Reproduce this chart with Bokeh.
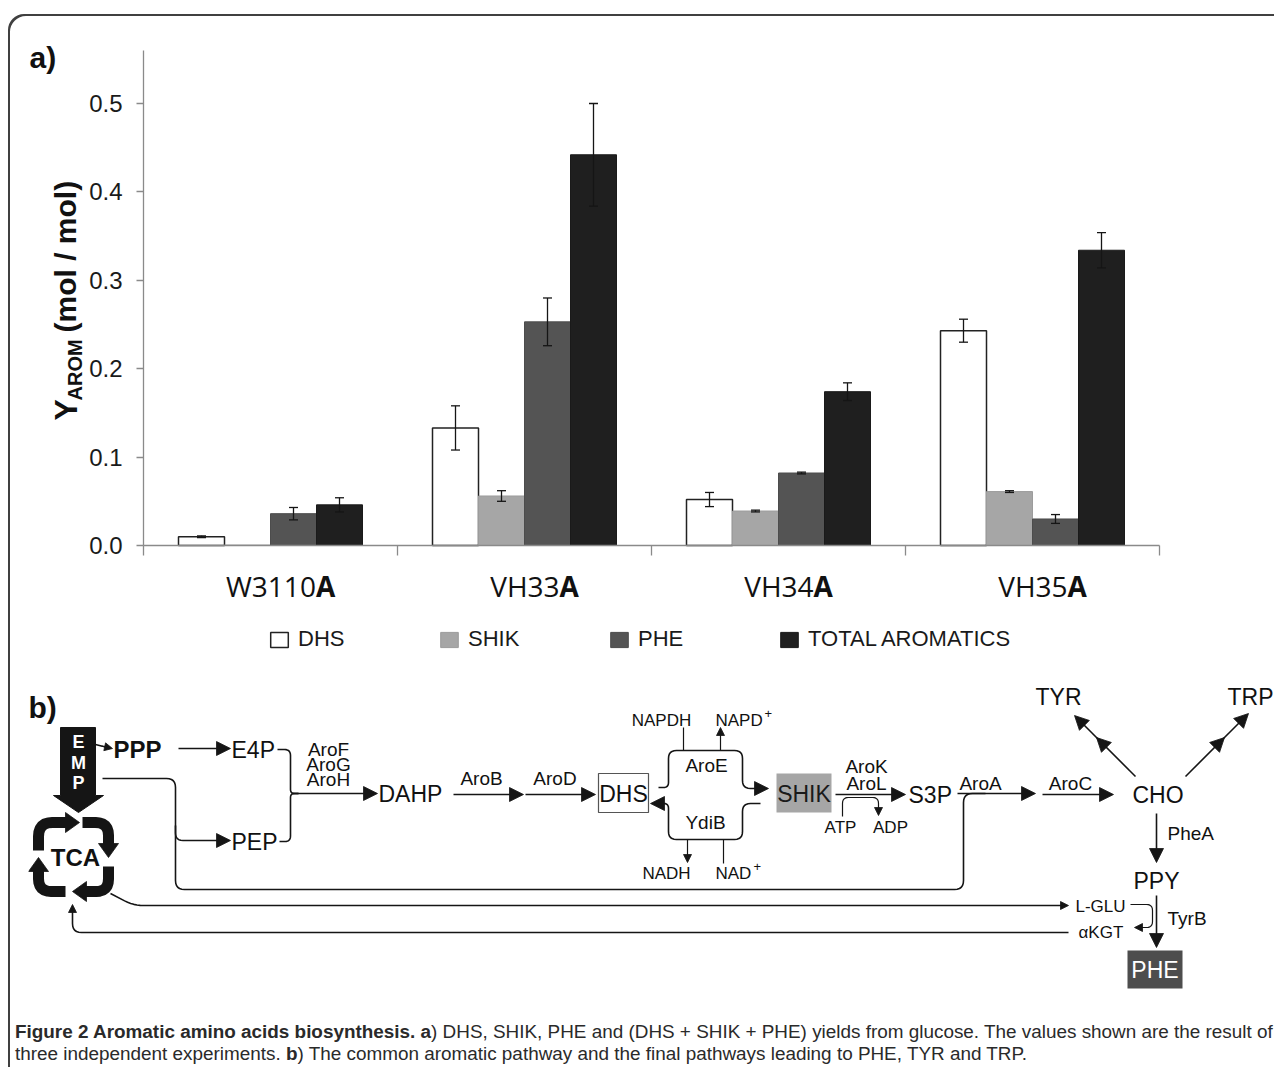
import numpy as np
from bokeh.plotting import figure
from bokeh.layouts import column
from bokeh.models import (FactorRange, Range1d, LinearAxis, CategoricalAxis, FixedTicker,
                          PrintfTickFormatter, ColumnDataSource, Legend, LegendItem, Label, Div)
from bokeh.transform import dodge
from bokeh.core.properties import value
from bokeh.embed import file_html
from bokeh.resources import INLINE

# ---------------- data: panel a ----------------
strains = ["W3110A", "VH33A", "VH34A", "VH35A"]
series = ["DHS", "SHIK", "PHE", "TOTAL AROMATICS"]
dhs_yield = [0.010, 0.133, 0.052, 0.243]
dhs_err = [0.001, 0.025, 0.008, 0.013]
shik_yield = [0.0005, 0.056, 0.039, 0.061]
shik_err = [0.0, 0.006, 0.001, 0.001]
phe_yield = [0.036, 0.253, 0.082, 0.030]
phe_err = [0.007, 0.027, 0.001, 0.005]
total_yield = [0.046, 0.442, 0.174, 0.334]
total_err = [0.008, 0.058, 0.010, 0.020]
y_ticks = [0.0, 0.1, 0.2, 0.3, 0.4, 0.5]
y_axis_top = 0.56

# ---------------- layout constants (page pixels) ----------------
W = 1266
PAGE_X0, PAGE_Y0 = 8, 14
CAP_TOP = 1021
CAP_H = 46
H = CAP_TOP - PAGE_Y0
FRAME_LEFT = 20
PX_PER_CAT = 254.0
PX_PER_UNIT = 884.0
CAT_LEFT_PAGE = 143.0
ZERO_PAGE_Y = 545.0

frame_l = PAGE_X0 + FRAME_LEFT
frame_r = PAGE_X0 + W
frame_t = PAGE_Y0
frame_b = PAGE_Y0 + H

pad = (CAT_LEFT_PAGE - frame_l) / PX_PER_CAT
x_range = FactorRange(factors=strains, range_padding=2 * pad / len(strains),
                      range_padding_units="percent")
y_range = Range1d((ZERO_PAGE_Y - frame_b) / PX_PER_UNIT, (ZERO_PAGE_Y - frame_t) / PX_PER_UNIT)


def X(px):
    """page x pixel -> synthetic category coordinate"""
    return (px - CAT_LEFT_PAGE) / PX_PER_CAT


def Y(py):
    """page y pixel -> value coordinate"""
    return (ZERO_PAGE_Y - py) / PX_PER_UNIT


p = figure(width=W, height=H, x_range=x_range, y_range=y_range,
           x_axis_location=None, y_axis_location=None, toolbar_location=None,
           output_backend="svg", min_border_left=FRAME_LEFT, min_border_right=0,
           min_border_top=0, min_border_bottom=0,
           background_fill_color=None, border_fill_color=None,
           outline_line_color=None)
p.xgrid.visible = False
p.ygrid.visible = False

AX_COL = "#8a8a8a"
INK = "#151515"

# ---------------- axes ----------------
yax = LinearAxis(fixed_location=0, bounds=(0, y_axis_top),
                 ticker=FixedTicker(ticks=y_ticks), formatter=PrintfTickFormatter(format="%.1f"))
yax.axis_line_color = AX_COL
yax.axis_line_width = 1.3
yax.major_tick_line_color = AX_COL
yax.major_tick_line_width = 1.3
yax.major_tick_out = 7
yax.major_tick_in = 0
yax.minor_tick_line_color = None
yax.major_label_text_font = "Liberation Sans"
yax.major_label_text_font_size = "24px"
yax.major_label_text_color = "#1a1a1a"
yax.major_label_standoff = 14
p.add_layout(yax, "left")

xax = CategoricalAxis(fixed_location=0, bounds=(0, len(strains)))
xax.axis_line_color = AX_COL
xax.axis_line_width = 1.3
xax.major_tick_line_color = None
xax.minor_tick_line_color = None
xax.major_label_text_color = None
p.add_layout(xax, "below")

# boundary ticks of the category axis
tick_len = 10 / PX_PER_UNIT
cat_src = ColumnDataSource(dict(cat=strains))
last_src = ColumnDataSource(dict(cat=strains[-1:]))
p.segment(x0=dodge("cat", -0.5, range=p.x_range), y0=0, x1=dodge("cat", -0.5, range=p.x_range),
          y1=-tick_len, source=cat_src, line_color=AX_COL, line_width=1.3)
p.segment(x0=dodge("cat", 0.5, range=p.x_range), y0=0, x1=dodge("cat", 0.5, range=p.x_range),
          y1=-tick_len, source=last_src, line_color=AX_COL, line_width=1.3)

# ---------------- bars ----------------
bar_w = 46 / PX_PER_CAT
offsets = [(-1.5 + i) * bar_w for i in range(4)]
keys = ["dhs", "shik", "phe", "total"]
vals = [dhs_yield, shik_yield, phe_yield, total_yield]
errs = [dhs_err, shik_err, phe_err, total_err]
fills = ["#ffffff", "#a6a6a6", "#545454", "#1f1f1f"]
lines_c = ["#222222", "#9c9c9c", "#4c4c4c", "#1a1a1a"]
lw = [1.5, 1.0, 1.0, 1.0]

bar_src = ColumnDataSource(dict(cat=strains, dhs=dhs_yield, shik=shik_yield,
                                phe=phe_yield, total=total_yield))
bar_renderers = []
for k, v, e, off, fc, lc, w in zip(keys, vals, errs, offsets, fills, lines_c, lw):
    r = p.vbar(x=dodge("cat", off, range=p.x_range), top=k, width=bar_w, bottom=0,
               source=bar_src, fill_color=fc, line_color=lc, line_width=w)
    bar_renderers.append(r)
    rows = [i for i in range(len(strains)) if e[i] > 0]
    es = ColumnDataSource(dict(cat=[strains[i] for i in rows],
                               lo=[v[i] - e[i] for i in rows],
                               hi=[v[i] + e[i] for i in rows]))
    xe = dodge("cat", off, range=p.x_range)
    p.segment(x0=xe, y0="lo", x1=xe, y1="hi", source=es, line_color=INK, line_width=1.3)
    p.scatter(x=xe, y="hi", marker="dash", size=9, source=es, line_color=INK, line_width=1.3)
    p.scatter(x=xe, y="lo", marker="dash", size=9, source=es, line_color=INK, line_width=1.3)

# category labels (strain name with bold trailing "A")
OS_W = {"W": 0.93, "V": 0.60, "H": 0.74, "0": 0.572, "1": 0.572, "3": 0.572,
        "4": 0.572, "5": 0.572}
LBL_PX = 28
label_y = Y(585)
for cat in strains:
    pre, suf = cat[:-1], cat[-1]
    w_pre = sum(OS_W.get(c, 0.6) for c in pre) * LBL_PX
    w_suf = 0.69 * LBL_PX
    off = (10 + (w_pre - w_suf) / 2) / PX_PER_CAT
    src = ColumnDataSource(dict(cat=[cat], pre=[pre], suf=[suf]))
    xl = dodge("cat", off, range=p.x_range)
    p.text(x=xl, y=label_y, text="pre", source=src, text_align="right", text_baseline="middle",
           text_font=value("Open Sans"), text_font_size=f"{LBL_PX}px", text_color="#111111")
    p.text(x=xl, y=label_y, text="suf", source=src, text_align="left", text_baseline="middle",
           text_font=value("Open Sans"), text_font_size=f"{LBL_PX}px", text_font_style="bold",
           text_color="#111111")

# legend
legend = Legend(items=[LegendItem(label=s, renderers=[r]) for s, r in zip(series, bar_renderers)],
                orientation="horizontal", location=(268 - frame_l, frame_b - 652),
                glyph_width=22, glyph_height=19, label_standoff=8, label_width=140,
                label_height=19, spacing=0, padding=0, margin=0,
                border_line_color=None, background_fill_alpha=0,
                label_text_font="Liberation Sans", label_text_font_size="22px",
                label_text_color="#1a1a1a")
p.add_layout(legend)


# ---------------- helpers for pixel-space drawing ----------------
def T(x, y, s, size, bold=False, align="left", color="#111111", baseline="middle",
      angle=0.0, font="Liberation Sans"):
    p.text(x=[X(x)], y=[Y(y)], text=[s], angle=angle, text_font=value(font),
           text_font_size=f"{size}px", text_font_style="bold" if bold else "normal",
           text_align=align, text_baseline=baseline, text_color=color)


def rpath(pts, r=7, n=7):
    out = [tuple(pts[0])]
    for i in range(1, len(pts) - 1):
        p0 = np.array(pts[i - 1], float)
        p1 = np.array(pts[i], float)
        p2 = np.array(pts[i + 1], float)
        d1 = p1 - p0
        l1 = np.hypot(*d1)
        d2 = p2 - p1
        l2 = np.hypot(*d2)
        rr = min(r, l1 / 2, l2 / 2)
        a = p1 - d1 / l1 * rr
        b = p1 + d2 / l2 * rr
        for t in np.linspace(0, 1, n):
            q = (1 - t) ** 2 * a + 2 * (1 - t) * t * p1 + t ** 2 * b
            out.append((q[0], q[1]))
    out.append(tuple(pts[-1]))
    return out


HEADS = {"big": (14, 7), "small": (8, 4), "tca": (14, 10)}
lines = {"thin": [], "normal": [], "tca": []}
head_polys = []


def head(tip, d, kind):
    L, Wd = HEADS[kind]
    tip = np.array(tip, float)
    d = np.array(d, float)
    d = d / np.hypot(*d)
    base = tip - d * L
    nrm = np.array([-d[1], d[0]])
    a = base + nrm * Wd
    b = base - nrm * Wd
    head_polys.append(([tip[0], a[0], b[0]], [tip[1], a[1], b[1]]))


def line(pts, r=7, group="normal"):
    lines[group].append(rpath(pts, r))


def arrow(pts, kind="big", r=7, group="normal"):
    tip = np.array(pts[-1], float)
    prev = np.array(pts[-2], float)
    d = tip - prev
    d = d / np.hypot(*d)
    end = tip - d * HEADS[kind][0] * 0.6
    lines[group].append(rpath(list(pts[:-1]) + [(end[0], end[1])], r))
    head(tip, d, kind)


def label(x, y, s, size, style="bold", font="Liberation Sans", baseline="alphabetic",
          color="#111111"):
    p.add_layout(Label(x=X(x), y=Y(y), text=s, text_font=font, text_font_size=f"{size}px",
                       text_font_style=style, text_baseline=baseline, text_color=color))


# ---------------- panel a: labels ----------------
label(29, 57, "a)", 30)
T(65, 420, "Y", 32, bold=True, baseline="alphabetic", angle=np.pi / 2)
T(74, 400, "AROM", 20, bold=True, baseline="alphabetic", angle=np.pi / 2)
T(65, 332, "(mol / mol)", 30, bold=True, baseline="alphabetic", angle=np.pi / 2)

# ---------------- panel b: pathway ----------------
label(28, 707, "b)", 30)


def box(cx, cy, w, h, fill, line_color=None, line_width=1.2):
    p.rect(x=[X(cx)], y=[Y(cy)], width=w / PX_PER_CAT, height=h / PX_PER_UNIT,
           fill_color=fill, line_color=line_color, line_width=line_width)


box(623, 792.5, 50, 39, "white", "#555555")
box(803.5, 792.5, 55, 39, "#a6a6a6")
box(1154.5, 969, 55, 38, "#4d4d4d")

# EMP block arrow
emp_x = [60, 95, 95, 103, 78, 53, 60]
emp_y = [727, 727, 795, 795, 812, 795, 795]
p.patch(x=[X(v) for v in emp_x], y=[Y(v) for v in emp_y], fill_color=INK, line_color=INK)

# connectors
arrow([(95, 744), (103, 746), (112, 748)], "small", r=4)
arrow([(178, 748), (230, 748)])
line([(277, 749), (290, 749), (290, 793), (298, 793)], r=6)
line([(279, 841), (290, 841), (290, 793), (298, 793)], r=6)
arrow([(293, 793), (377, 793)])
line([(102, 778), (175, 778), (175, 889), (963, 889), (963, 793), (985, 793)], r=9)
arrow([(175, 825), (175, 840), (230, 840)], r=9)
arrow([(453, 794), (523, 794)])
arrow([(525, 794), (595, 794)])
arrow([(658, 787), (668, 787), (668, 750), (742, 750), (742, 788), (768, 788)], r=8)
arrow([(760, 803), (742, 803), (742, 839), (668, 839), (668, 803), (650, 803)], r=8)
line([(683, 727), (683, 750)], group="thin")
arrow([(720, 750), (720, 727)], "small", group="thin")
arrow([(687, 839), (687, 862)], "small", group="thin")
line([(723, 839), (723, 863)], group="thin")
arrow([(835, 794), (905, 794)])
arrow([(842, 816), (842, 797), (878, 797), (878, 815)], "small", r=6, group="thin")
arrow([(957, 793), (1035, 793)])
arrow([(1042, 794), (1113, 794)])
line([(1135, 776), (1077, 718)])
head((1096, 737), (-1, -1), "big")
head((1074, 715), (-1, -1), "big")
line([(1185, 776), (1245, 716)])
head((1224, 737), (1, -1), "big")
head((1248, 713), (1, -1), "big")
arrow([(1156, 813), (1156, 862)])
arrow([(1156, 895), (1156, 947)])
arrow([(110, 893), (133, 905), (1068, 905)], "small", r=10)
arrow([(1130, 904), (1152, 904), (1152, 927), (1134, 927)], "small", r=6, group="thin")
arrow([(1068, 932), (72, 932), (72, 904)], "small", r=9)

# TCA cycle
arrow([(38, 850), (38, 822), (79, 822)], "tca", r=14, group="tca")
arrow([(82, 822), (108, 822), (108, 857)], "tca", r=14, group="tca")
arrow([(108, 866), (108, 891), (72, 891)], "tca", r=14, group="tca")
arrow([(65, 891), (38, 891), (38, 857)], "tca", r=14, group="tca")

widths = {"thin": 1.2, "normal": 1.6, "tca": 11}
for g, paths in lines.items():
    p.multi_line(xs=[[X(q[0]) for q in path] for path in paths],
                 ys=[[Y(q[1]) for q in path] for path in paths],
                 line_color=INK, line_width=widths[g], line_cap="butt", line_join="round")
p.patches(xs=[[X(v) for v in h[0]] for h in head_polys],
          ys=[[Y(v) for v in h[1]] for h in head_polys],
          fill_color=INK, line_color=INK, line_width=0.8)

# texts: metabolites
T(78, 741, "E", 18, bold=True, align="center", color="white")
T(78, 762, "M", 18, bold=True, align="center", color="white")
T(78, 782, "P", 18, bold=True, align="center", color="white")
T(113, 749, "PPP", 24, bold=True)
T(75, 857, "TCA", 24, bold=True, align="center")
T(231, 749, "E4P", 23)
T(231, 841, "PEP", 23)
T(378, 793, "DAHP", 23)
T(623, 793, "DHS", 23, align="center")
T(803.5, 793, "SHIK", 23, align="center", color="#1a1a1a")
T(908, 794, "S3P", 23)
T(1132, 794, "CHO", 23)
T(1156, 880, "PPY", 23, align="center")
T(1154.5, 969, "PHE", 23, align="center", color="white")
T(1058, 696, "TYR", 23, align="center")
T(1250, 696, "TRP", 23, align="center")
# enzymes
for x, y, s in [(328, 749, "AroF"), (328, 764, "AroG"), (328, 779, "AroH"),
                (481, 778, "AroB"), (554.5, 778, "AroD"), (706, 765, "AroE"),
                (705, 822, "YdiB"), (866, 766, "AroK"), (866, 783, "AroL"),
                (980, 783, "AroA"), (1070, 783, "AroC")]:
    T(x, y, s, 19, align="center")
T(1167, 833, "PheA", 19)
T(1167, 918, "TyrB", 19)
# cofactors
T(661, 720, "NAPDH", 17, align="center")
T(715, 720, "NAPD", 17)
T(764, 713, "+", 13)
T(666, 873, "NADH", 17, align="center")
T(715, 873, "NAD", 17)
T(753, 866, "+", 13)
T(840, 827, "ATP", 17, align="center")
T(890, 827, "ADP", 17, align="center")
T(1075, 906, "L-GLU", 17)
T(1078, 932, "\u03b1KGT", 17)

# ---------------- caption ----------------
caption_html = (
    '<div style="font-family:\'Liberation Sans\',Arial,sans-serif; font-size:18.9px; '
    'line-height:22px; color:#2a2a2a; margin-left:7px; white-space:nowrap;">'
    '<b>Figure 2 Aromatic amino acids biosynthesis. a</b>) DHS, SHIK, PHE and '
    '(DHS + SHIK + PHE) yields from glucose. The values shown are the result of<br>'
    'three independent experiments. <b>b</b>) The common aromatic pathway and the final '
    'pathways leading to PHE, TYR and TRP.</div>'
)
cap = Div(text=caption_html, width=W, height=CAP_H, margin=0)

layout = column(p, cap, spacing=0, margin=(PAGE_Y0, 0, 0, PAGE_X0),
                styles={"background-color": "white",
                        "box-shadow": "inset 2px 2px 0 0 #404040",
                        "border-top-left-radius": "16px"})

open("out.html", "w").write(file_html(layout, INLINE))
